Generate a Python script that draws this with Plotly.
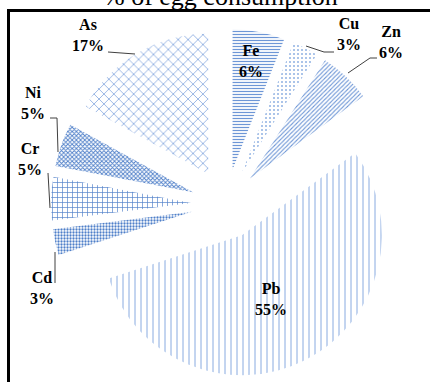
import plotly.graph_objects as go

# Share of metal intake from egg consumption
metals = ["Fe", "Cu", "Zn", "Pb", "Cd", "Cr", "Ni", "As"]
shares = [6, 3, 6, 55, 3, 5, 5, 17]

# Fill pattern per slice
patterns = ["-", ".", "/", "|", ".", "+", "x", "x"]
pattern_sizes = [3, 4, 3, 6, 3, 5, 3, 7]
pattern_solidity = [0.4, 0.2, 0.35, 0.15, 0.45, 0.25, 0.5, 0.2]
pattern_colors = ["#6d96d6", "#8fb0e2", "#6d96d6", "#7aa0dc",
                  "#4f7fc9", "#4f7fc9", "#4f7fc9", "#7aa0dc"]

W, H = 430, 382


def px(x, y):
    return x / W, 1 - y / H


fig = go.Figure(
    go.Pie(
        labels=metals,
        values=shares,
        sort=False,
        direction="clockwise",
        rotation=0,
        pull=[0.25] * len(metals),
        textinfo="none",
        hoverinfo="label+percent",
        showlegend=False,
        marker=dict(
            colors=["white"] * len(metals),
            line=dict(width=0),
            pattern=dict(
                shape=patterns,
                fgcolor=pattern_colors,
                bgcolor="white",
                size=pattern_sizes,
                solidity=pattern_solidity,
                fillmode="replace",
            ),
        ),
        domain=dict(x=[51 / W, 401 / W], y=[3 / H, 353 / H]),
    )
)

# Label positions (px centres) and leader lines for each slice
label_pos = {
    "Fe": (251, 61),
    "Cu": (349, 34),
    "Zn": (391, 42),
    "Pb": (271, 299),
    "Cd": (42, 288),
    "Cr": (30, 159),
    "Ni": (33, 103),
    "As": (88, 35),
}
leaders = [
    [(306, 46), (324, 52), (334, 52)],
    [(348, 73), (370, 58), (377, 58)],
    [(50, 118), (57, 118), (58, 152)],
    [(48, 173), (50, 208)],
    [(55, 252), (55, 283)],
    [(108, 52), (135, 54)],
]

annotations = []
for m, v in zip(metals, shares):
    x, y = px(*label_pos[m])
    annotations.append(
        dict(
            x=x, y=y, xref="paper", yref="paper",
            text=f"<b>{m}<br>{v}%</b>",
            showarrow=False,
            xanchor="center", yanchor="middle",
            font=dict(family="Liberation Serif", size=16, color="black"),
        )
    )

# Chart title, partly above the visible area
tx, ty = px(221, -4)
annotations.append(
    dict(
        x=tx, y=ty, xref="paper", yref="paper",
        text="% of egg consumption",
        showarrow=False,
        xanchor="center", yanchor="middle",
        font=dict(family="Liberation Serif", size=26, color="black"),
    )
)

shapes = []
for pts in leaders:
    path = ""
    for i, (x, y) in enumerate(pts):
        X, Y = px(x, y)
        path += ("M" if i == 0 else "L") + f"{X},{Y} "
    shapes.append(
        dict(type="path", xref="paper", yref="paper", path=path,
             line=dict(color="#404040", width=1))
    )

# Frame (left and top edges)
x0, y0 = px(8.5, 10.5)
shapes.append(dict(type="line", xref="paper", yref="paper",
                   x0=x0, y0=y0, x1=x0, y1=-0.05,
                   line=dict(color="black", width=3)))
shapes.append(dict(type="line", xref="paper", yref="paper",
                   x0=x0 - 1.5 / W, y0=y0, x1=1.05, y1=y0,
                   line=dict(color="black", width=3)))

fig.update_layout(
    width=W, height=H,
    margin=dict(l=0, r=0, t=0, b=0),
    paper_bgcolor="white",
    plot_bgcolor="white",
    annotations=annotations,
    shapes=shapes,
)

fig.write_html("out.html")
